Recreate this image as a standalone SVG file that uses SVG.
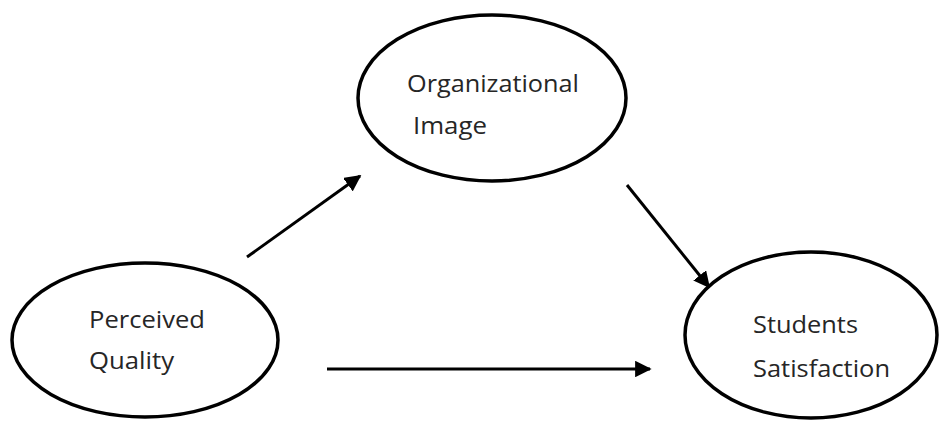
<svg xmlns="http://www.w3.org/2000/svg" width="942" height="421" viewBox="0 0 942 421">
  <defs>
    <marker id="ah" viewBox="0 0 10 10" refX="9" refY="5" markerWidth="5.5" markerHeight="5.5" markerUnits="strokeWidth" orient="auto">
      <path d="M0,0 L10,5 L0,10 Z" fill="#000"/>
    </marker>
    <style>
      .node ellipse { fill: #fff; stroke: #000; stroke-width: 3.5; }
      .node text { font-family: "Open Sans", "Liberation Sans", sans-serif; font-size: 23px; fill: #262626; }
      .edge { stroke: #000; stroke-width: 3; fill: none; marker-end: url(#ah); }
    </style>
  </defs>
  <rect width="942" height="421" fill="#fff"/>
  <g id="connectors">
    <line class="edge" x1="247" y1="257" x2="360" y2="176"/>
    <line class="edge" x1="627" y1="185" x2="709" y2="287"/>
    <line class="edge" x1="327" y1="369" x2="650" y2="369"/>
  </g>
  <g id="organizational-image" class="node">
    <ellipse cx="492" cy="98" rx="134" ry="83"/>
    <text x="407" y="92" textLength="172" lengthAdjust="spacingAndGlyphs">Organizational</text>
    <text x="413" y="134" textLength="74" lengthAdjust="spacingAndGlyphs">Image</text>
  </g>
  <g id="perceived-quality" class="node">
    <ellipse cx="145" cy="340" rx="133" ry="77"/>
    <text x="89" y="328" textLength="116" lengthAdjust="spacingAndGlyphs">Perceived</text>
    <text x="89" y="369" textLength="85" lengthAdjust="spacingAndGlyphs">Quality</text>
  </g>
  <g id="students-satisfaction" class="node">
    <ellipse cx="811" cy="335" rx="126" ry="83"/>
    <text x="753" y="333" textLength="105" lengthAdjust="spacingAndGlyphs">Students</text>
    <text x="753" y="377" textLength="137" lengthAdjust="spacingAndGlyphs">Satisfaction</text>
  </g>
</svg>
